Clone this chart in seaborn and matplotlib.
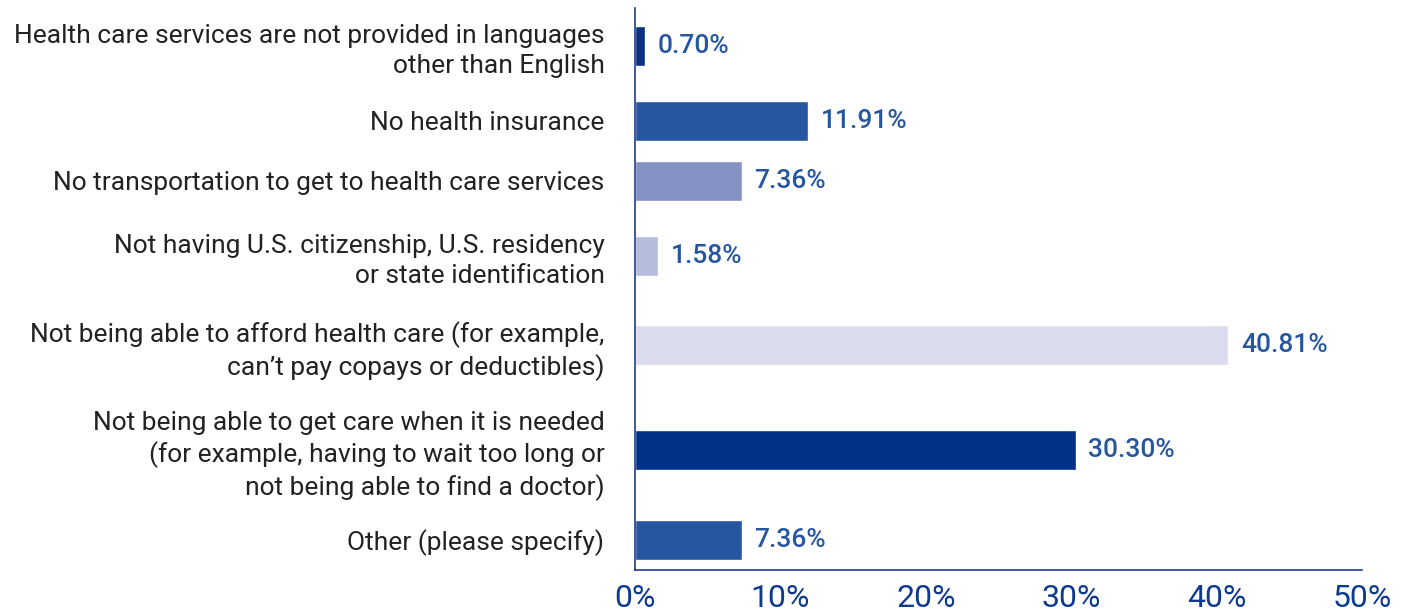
import matplotlib
matplotlib.use("Agg")
import matplotlib.pyplot as plt
import seaborn as sns
import pandas as pd
import numpy as np

categories = [
    "Health care services are not provided in languages\nother than English",
    "No health insurance",
    "No transportation to get to health care services",
    "Not having U.S. citizenship, U.S. residency\nor state identification",
    "Not being able to afford health care (for example,\ncan\u2019t pay copays or deductibles)",
    "Not being able to get care when it is needed\n(for example, having to wait too long or\nnot being able to find a doctor)",
    "Other (please specify)",
]
values = [0.70, 11.91, 7.36, 1.58, 40.81, 30.30, 7.36]
bar_colors = ["#0B3183", "#2756A0", "#8592C4", "#B6BCDC", "#DBDCEE", "#003087", "#2756A0"]
x_ticks = [0, 10, 20, 30, 40, 50]

sns.set_theme(style="white")
plt.rcParams["font.family"] = ["Roboto", "DejaVu Sans"]

# vertical layout: each row's spacing grows with the number of label lines
lines = [c.count("\n") + 1 for c in categories]
pos = [0.0]
for a, b in zip(lines[:-1], lines[1:]):
    pos.append(pos[-1] + 60 + 15 * ((a - 1) + (b - 1)))

df = pd.DataFrame({"cat": categories, "value": values, "pos": pos})

fig = plt.figure(figsize=(14.19, 6.15), dpi=100)
ax = fig.add_axes([635 / 1419, 1 - 570 / 615, (1362 - 635) / 1419, (570 - 8) / 615])

gaps = np.diff(pos)
sns.barplot(data=df, x="value", y="pos", hue="cat", palette=bar_colors,
            orient="h", native_scale=True, dodge=False, legend=False,
            width=40 / gaps.min(), saturation=1, ax=ax)

for cont in ax.containers:
    ax.bar_label(cont, labels=[f"{v:.2f}%" for v in cont.datavalues],
                 padding=9, color="#2756A0", fontsize=19, fontweight="medium")

ax.set_ylim(pos[-1] + 30, pos[0] - 38)
ax.set_xlim(0, 50)
ax.set_yticks(pos)
ax.set_yticklabels(categories, fontsize=19, color="#222222", linespacing=1.3)
ax.tick_params(axis="y", length=0, pad=22)
ax.set_xticks(x_ticks)
ax.set_xticklabels([f"{t}%" for t in x_ticks], fontsize=23, color="#0E3A8C")
ax.tick_params(axis="x", direction="in", length=10, width=1.2, color="#1D3C8C", pad=10)
for lbl in ax.get_yticklabels():
    lbl.set_horizontalalignment("right")
ax.set_xlabel("")
ax.set_ylabel("")
for s in ["top", "right"]:
    ax.spines[s].set_visible(False)
for s in ["left", "bottom"]:
    ax.spines[s].set_color("#1D3C8C")
    ax.spines[s].set_linewidth(1.2)

fig.savefig("out.png", dpi=100)
